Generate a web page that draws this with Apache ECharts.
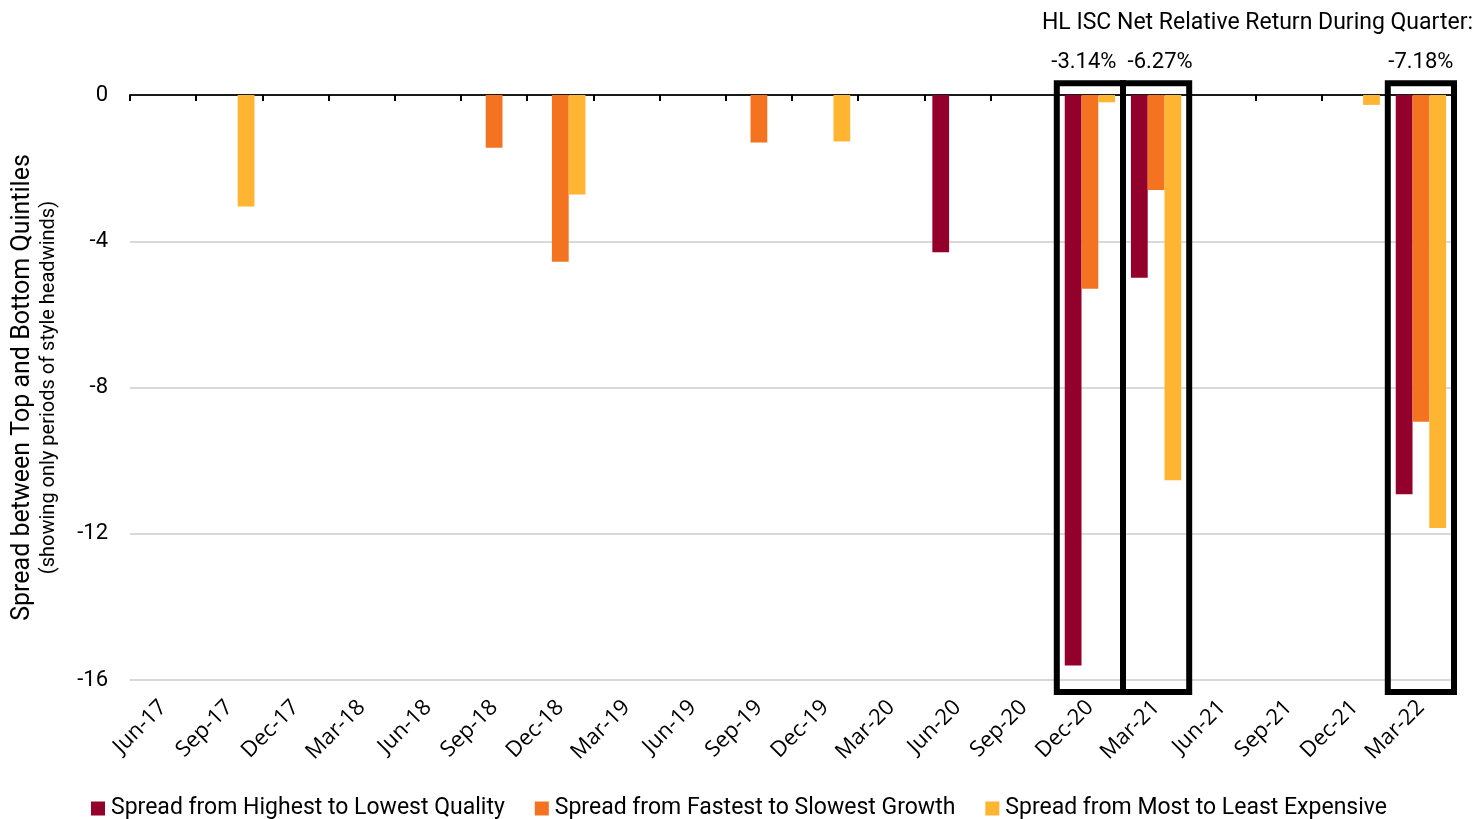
<!DOCTYPE html>
<html>
<head>
<meta charset="utf-8">
<script src="https://cdn.jsdelivr.net/npm/echarts@6/dist/echarts.min.js"></script>
<style>
  html, body { margin: 0; padding: 0; background: #fff; }
  #chart { width: 1478px; height: 819px; }
</style>
</head>
<body>
<div id="chart"></div>
<script>
// Quarter ends
const quarters = ['Jun-17', 'Sep-17', 'Dec-17', 'Mar-18', 'Jun-18', 'Sep-18', 'Dec-18', 'Mar-19',
  'Jun-19', 'Sep-19', 'Dec-19', 'Mar-20', 'Jun-20', 'Sep-20', 'Dec-20', 'Mar-21',
  'Jun-21', 'Sep-21', 'Dec-21', 'Mar-22'];

// Quintile spreads, only quarters with a style headwind are filled
const qualitySpread = [null, null, null, null, null, null, null, null,
  null, null, null, null, -4.30, null, -15.60, -5.00,
  null, null, null, -10.92];
const growthSpread = [null, null, null, null, null, -1.44, -4.56, null,
  null, -1.30, null, null, null, null, -5.30, -2.60,
  null, null, null, -8.94];
const valueSpread = [null, -3.05, null, null, null, null, -2.72, null,
  null, null, -1.27, null, null, null, -0.20, -10.54,
  null, null, -0.27, -11.84];

const seriesNames = ['Spread from Highest to Lowest Quality',
  'Spread from Fastest to Slowest Growth',
  'Spread from Most to Least Expensive'];
const seriesColors = ['#93002b', '#f47321', '#ffb531'];

// Highlighted quarters and the fund's net relative return in each
const boxQuarters = ['Dec-20', 'Mar-21', 'Mar-22'];
const boxReturns = ['-3.14%', '-6.27%', '-7.18%'];

const yTicks = { min: -16, max: 0, interval: 4 };

const dinLike = 'Roboto, "Noto Sans", sans-serif';
// small horizontal nudges so neighbouring return labels don't collide
const returnLabelNudge = [-6, 4, 0];

const chart = echarts.init(document.getElementById('chart'));

const barSeries = [qualitySpread, growthSpread, valueSpread].map((vals, i) => ({
  name: seriesNames[i],
  type: 'bar',
  xAxisIndex: 0,
  data: vals,
  itemStyle: { color: seriesColors[i] },
  barGap: '0%',
  barCategoryGap: '24%',
  z: 2
}));

const boxSeries = {
  type: 'custom',
  xAxisIndex: 0,
  clip: false,
  z: 10,
  silent: true,
  encode: { x: 0, y: 1 },
  data: boxQuarters.map(q => [q, 0]),
  renderItem: function (params, api) {
    const cat = api.value(0);
    const cx = api.coord([cat, 0])[0];
    const band = api.size([1, 0])[0];
    const top = api.coord([cat, 0.32])[1];
    const bottom = api.coord([cat, -16.33])[1];
    return {
      type: 'group',
      children: [
        {
          type: 'rect',
          shape: { x: cx - band / 2, y: top, width: band, height: bottom - top },
          style: { fill: 'none', stroke: '#000', lineWidth: 6 }
        },
        {
          type: 'text',
          style: {
            x: cx + returnLabelNudge[params.dataIndex],
            y: top - 21,
            text: boxReturns[params.dataIndex],
            fill: '#000',
            font: '22px ' + dinLike,
            align: 'center',
            verticalAlign: 'middle'
          }
        }
      ]
    };
  }
};

chart.setOption({
  animation: false,
  backgroundColor: '#fff',
  title: {
    text: 'HL ISC Net Relative Return During Quarter:',
    right: 5,
    top: 12,
    padding: 0,
    textStyle: { fontFamily: dinLike, fontSize: 23, fontWeight: 'normal', color: '#000' }
  },
  grid: { left: 130, right: 24, top: 95, bottom: 139, containLabel: false },
  legend: {
    data: seriesNames,
    top: 797,
    left: 'center',
    padding: 0,
    icon: 'rect',
    itemWidth: 14,
    itemHeight: 14,
    itemGap: 30,
    textStyle: { fontFamily: dinLike, fontSize: 23, color: '#000', padding: [0, 0, 0, 1] }
  },
  xAxis: [
    {
      type: 'category',
      data: quarters,
      position: 'bottom',
      axisLine: { show: false, onZero: false },
      axisTick: { show: false },
      axisLabel: {
        rotate: 45,
        interval: 0,
        margin: 24,
        color: '#000',
        fontSize: 22,
        fontFamily: '"Open Sans", "Noto Sans", sans-serif'
      }
    },
    {
      type: 'category',
      data: quarters,
      position: 'top',
      axisLine: { show: true, onZero: false, lineStyle: { color: '#1a1a1a', width: 2 } },
      axisTick: { show: true, inside: true, length: 6, lineStyle: { color: '#000', width: 2 } },
      axisLabel: { show: false }
    }
  ],
  yAxis: {
    type: 'value',
    min: yTicks.min,
    max: yTicks.max,
    interval: yTicks.interval,
    axisLine: { show: false },
    axisTick: { show: false },
    axisLabel: { color: '#000', fontSize: 22, fontFamily: dinLike, margin: 22 },
    splitLine: { lineStyle: { color: '#d9d9d9', width: 2 } },
    name: '{a|Spread between Top and Bottom Quintiles}\n{b|(showing only periods of style headwinds)}',
    nameLocation: 'middle',
    nameRotate: 90,
    nameGap: 69,
    nameTextStyle: {
      color: '#000',
      align: 'center',
      rich: {
        a: { fontFamily: dinLike, fontSize: 25, color: '#000', lineHeight: 28 },
        b: { fontFamily: dinLike, fontSize: 20, color: '#000', lineHeight: 24 }
      }
    }
  },
  series: barSeries.concat([boxSeries])
});
</script>
</body>
</html>
